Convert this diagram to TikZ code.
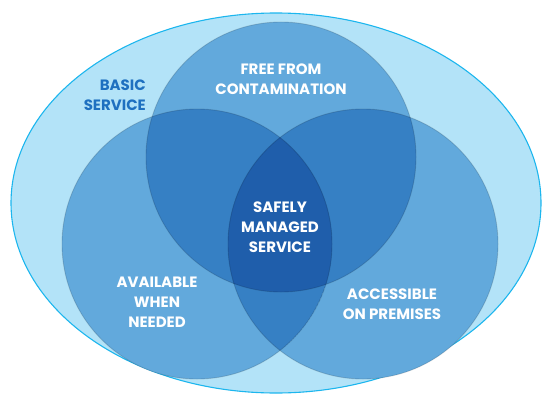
\documentclass[tikz,border=0pt]{standalone}
\usepackage{fontspec}
\setmainfont{Poppins}
\definecolor{bg}{RGB}{179,227,248}
\definecolor{rim}{RGB}{28,182,238}
\definecolor{one}{RGB}{98,169,220}
\definecolor{two}{RGB}{54,128,196}
\definecolor{three}{RGB}{31,94,171}
\definecolor{basic}{RGB}{30,112,192}
\begin{document}
\begin{tikzpicture}[x=1pt,y=-1pt,
  lbl/.style={text=white,font=\bfseries\fontsize{15}{19.8}\selectfont,align=center,inner sep=0pt},
  edge/.style={draw=black,draw opacity=0.14,line width=0.9pt}]
\useasboundingbox (0,0) rectangle (543,396);
\draw[fill=bg,draw=rim,line width=1.1pt] (276,203) ellipse [x radius=265pt, y radius=190pt];
\coordinate (T) at (281,157);
\coordinate (L) at (197,244);
\coordinate (R) at (363,244);
\def\rr{135pt}
\fill[one] (T) circle[radius=\rr];
\fill[one] (L) circle[radius=\rr];
\fill[one] (R) circle[radius=\rr];
\begin{scope}
  \clip (T) circle[radius=\rr];
  \fill[two] (L) circle[radius=\rr];
  \fill[two] (R) circle[radius=\rr];
  \clip (L) circle[radius=\rr];
  \fill[three] (R) circle[radius=\rr];
\end{scope}
\begin{scope}
  \clip (L) circle[radius=\rr];
  \clip (R) circle[radius=\rr];
  \fill[two] (T) circle[radius=\rr];
  \fill[two] (L) circle[radius=\rr];
  \clip (T) circle[radius=\rr];
  \fill[three] (R) circle[radius=\rr];
\end{scope}
\draw[edge] (T) circle[radius=\rr];
\draw[edge] (L) circle[radius=\rr];
\draw[edge] (R) circle[radius=\rr];
\node[lbl,text=basic,align=right,anchor=east] (basic) at (146,95) {BASIC\\SERVICE};
\node[lbl] (free) at (281,79) {FREE FROM\\CONTAMINATION};
\node[lbl] (safe) at (280,227) {SAFELY\\MANAGED\\SERVICE};
\node[lbl] (avail) at (157,302) {AVAILABLE\\WHEN\\NEEDED};
\node[lbl] (access) at (392,304) {ACCESSIBLE\\ON PREMISES};
\end{tikzpicture}
\end{document}
